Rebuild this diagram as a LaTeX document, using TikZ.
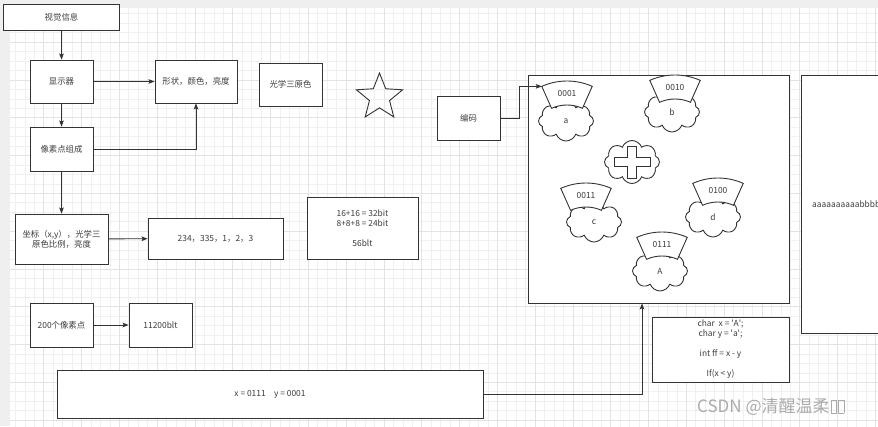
\documentclass[tikz,border=0pt]{standalone}
\usepackage{fontspec}
\setmainfont{Noto Sans CJK SC}
\usetikzlibrary{arrows.meta,shapes.geometric,shapes.symbols}
\definecolor{Ink}{HTML}{333333}
\definecolor{Label}{HTML}{3C3C3C}
\definecolor{Page}{HTML}{EFEFEF}
\definecolor{GridMinor}{HTML}{F0F0F0}
\definecolor{GridMajor}{HTML}{E3E3E3}
\definecolor{Mark}{HTML}{ABABAB}
\newcommand\tofubox{\kern1pt{\setlength\fboxsep{0pt}\setlength\fboxrule{0.7pt}\fbox{\rule{0pt}{12pt}\hspace{5pt}}}}
\tikzset{
  link/.style={-{Stealth[length=6pt,width=4.6pt,inset=1.2pt]},line width=0.9pt,draw=Ink},
  box/.style={draw=Ink,line width=0.9pt,fill=white,inner sep=1pt,align=center,
    text=Label,font=\fontsize{8.4}{10}\selectfont},
  puff/.style={cloud,cloud puffs=8,cloud puff arc=140,cloud ignores aspect,draw=Ink,
    line width=0.9pt,fill=white,minimum width=55pt,minimum height=40pt,inner sep=0pt,
    text=Label,font=\fontsize{8.4}{10}\selectfont},
  capband/.style={draw=Ink,line width=0.9pt,fill=white},
  bits/.style={inner sep=0pt,text=Label,font=\fontsize{8.4}{10}\selectfont},
}

\begin{document}
\begin{tikzpicture}[x=1pt,y=-1pt]
  \useasboundingbox (0,0) rectangle (878,426);
  % page and grid
  \fill[Page] (0,0) rectangle (878,426);
  \begin{scope}
    \clip (10,8) rectangle (878,426);
    \fill[white] (10,8) rectangle (878,426);
    \draw[GridMinor,line width=0.6pt,shift={(5.9,4.3)},step=9.45pt] (0,430) grid (880,0);
    \draw[GridMajor,line width=0.6pt,shift={(5.9,4.3)},step=37.8pt] (0,430) grid (880,0);
  \end{scope}

  % left column
  \node[box,minimum width=116pt,minimum height=26pt] (vision) at (61.5,17) {视觉信息};
  \node[box,minimum width=63pt,minimum height=43pt] (display) at (61.5,81.5) {显示器};
  \node[box,minimum width=82pt,minimum height=43pt] (shape) at (196,81.5) {形状，颜色，亮度};
  \node[box,minimum width=63pt,minimum height=43pt] (optics) at (290.5,84.5) {光学三原色};
  \node[star,star points=5,star point ratio=2.3,minimum size=48.6pt,inner sep=0pt,
    draw=Ink,line width=0.9pt] (star) at (379.5,97.3) {};
  \node[box,minimum width=63pt,minimum height=44pt] (pixel) at (61.5,149) {像素点组成};
  \node[box,minimum width=93pt,minimum height=50pt] (coord) at (61.5,239)
    {坐标（x,y），光学三\\原色比例，亮度};
  \node[box,minimum width=135pt,minimum height=41pt] (values) at (215.5,238.5)
    {234，335，1，2，3};
  \node[box,minimum width=111pt,minimum height=62pt] (bitsum) at (362.5,228)
    {16+16 = 32bit\\8+8+8 = 24bit\\[10pt]56blt};
  \node[box,minimum width=63pt,minimum height=44pt] (count) at (61.5,325) {200个像素点};
  \node[box,minimum width=63pt,minimum height=44pt] (total) at (160.5,325) {11200blt};
  \node[box,minimum width=426pt,minimum height=48pt] (xy) at (270,394)
    {x = 0111\quad y = 0001};

  \draw[link] (vision) -- (display);
  \draw[link] (display) -- (shape);
  \draw[link] (display) -- (pixel);
  \draw[link] (pixel.east) -| (shape.south);
  \draw[link] (pixel) -- (coord);
  \draw[link] (coord) -- (values);
  \draw[link] (count) -- (total);

  % encoding canvas
  \node[box,minimum width=63pt,minimum height=44pt] (encode) at (468.5,118) {编码};
  \node[box,minimum width=261pt,minimum height=228pt] (canvas) at (658.5,189) {};
  \foreach \nm/\cx/\cy/\sx/\sy/\code/\ch in {a/566/121/567/81/0001/a,b/672/112/675/75/0010/b,
      c/594/222/586/183/0011/c,d/713/217/718/178/0100/d,A/660/271/662/232/0111/A}{
    \node[puff] (cloud\nm) at (\cx,\cy) {\ch};
    \path[capband] (\sx,\sy+62) ++(246:62) arc[start angle=246,end angle=294,radius=62]
      -- ++(114:24) arc[start angle=294,end angle=246,radius=38] -- cycle;
    \node[bits] (code\nm) at (\sx,\sy+13) {\code};
  }
  \path (567,143) ++(246:62) coordinate (capcorner);
  \node[puff,minimum height=43pt] (plus) at (632,162) {};
  \draw[capband] (plus.center) ++(-4.7,-16) -- ++(9.4,0) -- ++(0,11.3) -- ++(13.3,0)
    -- ++(0,9.4) -- ++(-13.3,0) -- ++(0,11.3) -- ++(-9.4,0) -- ++(0,-11.3)
    -- ++(-13.3,0) -- ++(0,-9.4) -- ++(13.3,0) -- cycle;

  \node[box,minimum width=137pt,minimum height=65pt] (charcode) at (720.5,349.5)
    {char~ x = \textquotesingle A\textquotesingle;\\char y = \textquotesingle a\textquotesingle;\\[10pt]
     int ff = x - y\\[10pt]If(x < y)};
  \node[box,minimum width=90pt,minimum height=258pt,anchor=north west] (spill) at (801,75) {};
  \node[bits,anchor=west] (spilltext) at ([xshift=11pt]spill.west) {aaaaaaaaaabbbbbbbbbb};

  \draw[link] (encode.east) -- ++(19,0) |- (capcorner);
  \draw[link] (xy.east) -| ([xshift=-16.5pt]canvas.south);

  \node[anchor=west,inner sep=0pt,text=Mark,font=\fontsize{17}{20}\selectfont] (mark)
    at (697,407) {CSDN @清醒温柔\tofubox\tofubox};
\end{tikzpicture}
\end{document}
